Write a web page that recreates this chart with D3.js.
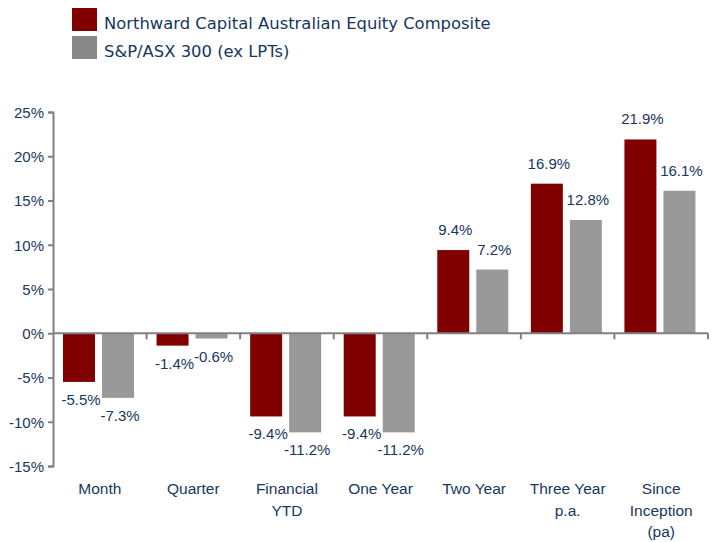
<!DOCTYPE html>
<html><head><meta charset="utf-8">
<script src="https://cdn.jsdelivr.net/npm/d3@7"></script>
<style>body{margin:0;background:#fff}svg{display:block}</style>
</head><body>
<script>
const categories = [["Month"],["Quarter"],["Financial","YTD"],["One Year"],["Two Year"],["Three Year","p.a."],["Since","Inception","(pa)"]];
const seriesNames = ["Northward Capital Australian Equity Composite","S&P/ASX 300 (ex LPTs)"];
const northward = [-5.5,-1.4,-9.4,-9.4,9.4,16.9,21.9];
const asx300 = [-7.3,-0.6,-11.2,-11.2,7.2,12.8,16.1];
const yTicks = [-15,-10,-5,0,5,10,15,20,25];

const W=718,H=542;
const textColor="#17375e", axisColor="#808080";
const barColors=["#800000","#999999"], legendColors=["#800000","#878787"];
const svg=d3.select("body").append("svg").attr("width",W).attr("height",H);

const keys=categories.map((c,i)=>i);
const x=d3.scaleBand().domain(keys).range([53,708]);
const xi=d3.scaleBand().domain([0,1]).range([10,81]).paddingInner(0.18);
const y=d3.scaleLinear().domain([-15,25]).range([466,112]);
const data=[northward,asx300];

// bars
data.forEach((vals,s)=>{
  svg.append("g").selectAll("rect").data(vals).join("rect")
    .attr("x",(d,i)=>x(i)+xi(s)).attr("width",xi.bandwidth())
    .attr("y",d=>y(Math.max(0,d))).attr("height",d=>Math.abs(y(d)-y(0)))
    .attr("fill",barColors[s]);
  svg.append("g").selectAll("text").data(vals).join("text")
    .attr("x",(d,i)=>x(i)+xi(s)+xi.bandwidth()/2+2)
    .attr("y",d=>d>=0? y(d)-15 : y(d)+23)
    .attr("text-anchor","middle")
    .attr("font-family","Liberation Sans, Arial, sans-serif").attr("font-size",15)
    .attr("fill",textColor)
    .text(d=>d.toFixed(1)+"%");
});

// y axis
const yAxis=svg.append("g").attr("transform","translate(53,0)")
  .call(d3.axisLeft(y).tickValues(yTicks).tickFormat(d=>d+"%").tickSize(5).tickPadding(4));
yAxis.select(".domain").attr("stroke",axisColor).attr("stroke-width",2);
yAxis.selectAll(".tick line").attr("stroke",axisColor).attr("stroke-width",2);
yAxis.selectAll(".tick text").attr("fill",textColor).attr("font-family","Liberation Sans, Arial, sans-serif").attr("font-size",15).attr("dy","0.35em");

// x axis line at zero
svg.append("line").attr("x1",53).attr("x2",708).attr("y1",y(0)).attr("y2",y(0))
  .attr("stroke",axisColor).attr("stroke-width",2);
const bounds=keys.map(i=>x(i)).concat([x.range()[1]]).slice(1);
svg.append("g").selectAll("line").data(bounds).join("line")
  .attr("x1",d=>d).attr("x2",d=>d).attr("y1",y(0)).attr("y2",y(0)+6)
  .attr("stroke",axisColor).attr("stroke-width",2);

// category labels
const cl=svg.append("g").selectAll("text").data(categories).join("text")
  .attr("text-anchor","middle")
  .attr("font-family","Liberation Sans, Arial, sans-serif").attr("font-size",15.5)
  .attr("fill",textColor);
cl.each(function(lines,i){
  d3.select(this).selectAll("tspan").data(lines).join("tspan")
    .attr("x",x(i)+x.bandwidth()/2).attr("y",(d,j)=>494+j*21.5).text(d=>d);
});

// legend
const lg=svg.append("g");
seriesNames.forEach((n,s)=>{
  lg.append("rect").attr("x",72).attr("y",8+s*28).attr("width",25).attr("height",23).attr("fill",legendColors[s]);
  lg.append("text").attr("x",104).attr("y",29+s*28)
    .attr("font-family","DejaVu Sans, Verdana, sans-serif").attr("font-size",16.4)
    .attr("fill",textColor).text(n);
});
</script>
</body></html>
